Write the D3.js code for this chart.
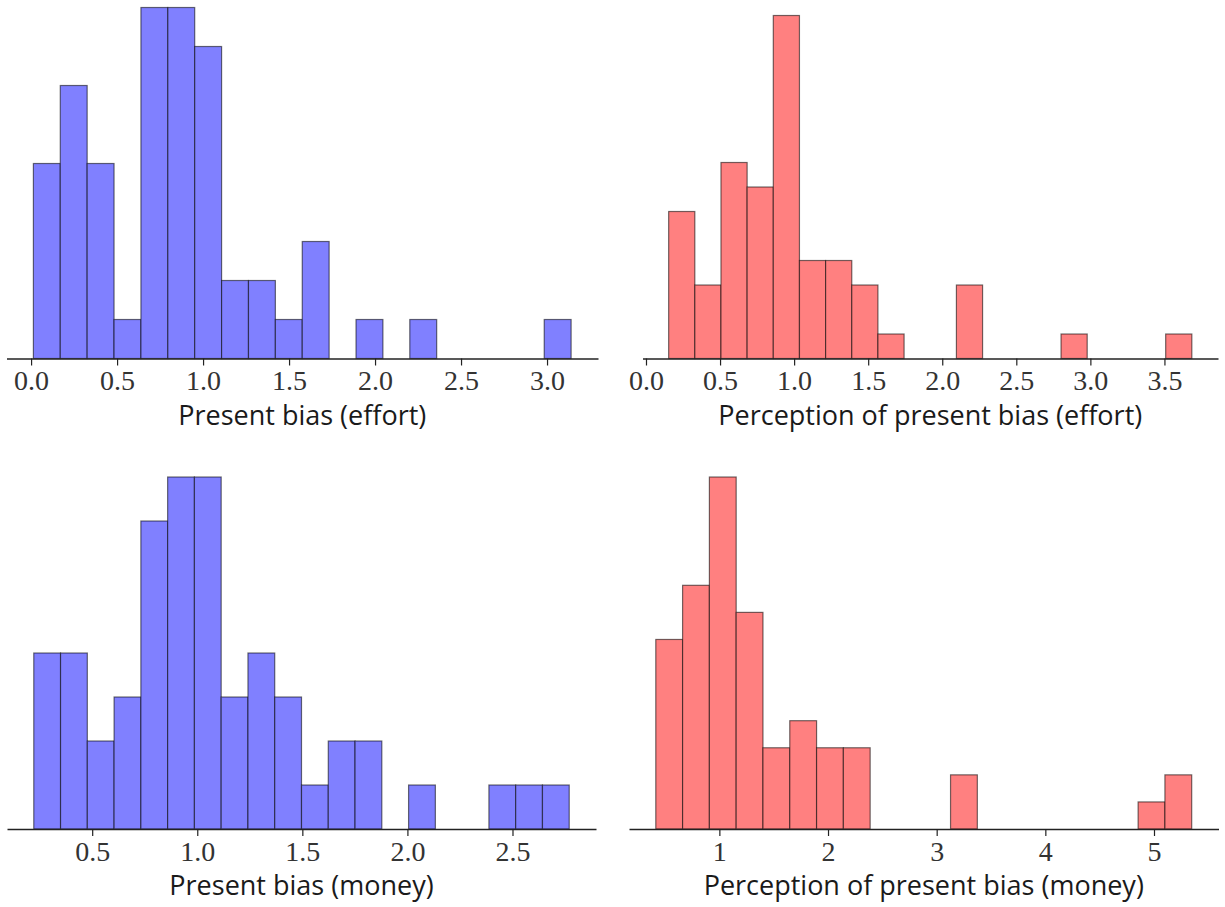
<!DOCTYPE html>
<html>
<head>
<meta charset="utf-8">
<script src="https://cdn.jsdelivr.net/npm/d3@7"></script>
<style>
  html, body { margin: 0; padding: 0; background: #fff; }
  svg { display: block; }
</style>
</head>
<body>
<svg id="chart" width="1225" height="907"></svg>
<script>
// Histogram counts (20 equal-width bins each) and bin ranges
const effortBiasCounts     = [5, 7, 5, 1, 9, 9, 8, 2, 2, 1, 3, 0, 1, 0, 1, 0, 0, 0, 0, 1];
const effortBiasRange      = [0.0134, 3.140];
const effortPerceptCounts  = [6, 3, 8, 7, 14, 4, 4, 3, 1, 0, 0, 3, 0, 0, 0, 1, 0, 0, 0, 1];
const effortPerceptRange   = [0.153, 3.685];
const moneyBiasCounts      = [4, 4, 2, 3, 7, 8, 8, 3, 4, 3, 1, 2, 2, 0, 1, 0, 0, 1, 1, 1];
const moneyBiasRange       = [0.222, 2.770];
const moneyPerceptCounts   = [7, 9, 13, 8, 3, 4, 3, 3, 0, 0, 0, 2, 0, 0, 0, 0, 0, 0, 1, 2];
const moneyPerceptRange    = [0.415, 5.347];

// Tick values and axis titles
const effortBiasTicks    = [0, 0.5, 1, 1.5, 2, 2.5, 3];
const effortPerceptTicks = [0, 0.5, 1, 1.5, 2, 2.5, 3, 3.5];
const moneyBiasTicks     = [0.5, 1, 1.5, 2, 2.5];
const moneyPerceptTicks  = [1, 2, 3, 4, 5];
const axisTitles = [
  "Present bias (effort)",
  "Perception of present bias (effort)",
  "Present bias (money)",
  "Perception of present bias (money)"
];

const BLUE = "#8080ff", RED = "#ff8080";

const panels = [
  { counts: effortBiasCounts, range: effortBiasRange, ticks: effortBiasTicks, fmt: d3.format(".1f"),
    title: axisTitles[0], fill: BLUE, left: 6.5, right: 598, base: 358.5, top: 7.5 },
  { counts: effortPerceptCounts, range: effortPerceptRange, ticks: effortPerceptTicks, fmt: d3.format(".1f"),
    title: axisTitles[1], fill: RED, left: 642.5, right: 1218, base: 358.5, top: 15.5 },
  { counts: moneyBiasCounts, range: moneyBiasRange, ticks: moneyBiasTicks, fmt: d3.format(".1f"),
    title: axisTitles[2], fill: BLUE, left: 7, right: 596, base: 829, top: 477 },
  { counts: moneyPerceptCounts, range: moneyPerceptRange, ticks: moneyPerceptTicks, fmt: d3.format("d"),
    title: axisTitles[3], fill: RED, left: 629, right: 1218.5, base: 829, top: 477 }
];

const svg = d3.select("#chart");

panels.forEach(p => {
  const n = p.counts.length;
  const [lo, hi] = p.range;
  const w = (hi - lo) / n;
  const bins = p.counts.map((c, i) => ({ x0: lo + i * w, x1: lo + (i + 1) * w, count: c }));

  // 5% padding on each side of the data, as in the usual histogram layout
  const x = d3.scaleLinear().domain([lo - w, hi + w]).range([p.left, p.right]);
  const y = d3.scaleLinear().domain([0, d3.max(p.counts)]).range([p.base, p.top]);

  const g = svg.append("g");

  g.selectAll("rect")
    .data(bins.filter(b => b.count > 0))
    .join("rect")
    .attr("x", d => x(d.x0))
    .attr("y", d => y(d.count))
    .attr("width", d => x(d.x1) - x(d.x0))
    .attr("height", d => y(0) - y(d.count))
    .attr("fill", p.fill)
    .attr("stroke", "#000")
    .attr("stroke-opacity", 0.55)
    .attr("stroke-width", 1.2);

  const axis = d3.axisBottom(x)
    .tickValues(p.ticks)
    .tickFormat(p.fmt)
    .tickSize(7)
    .tickPadding(5)
    .tickSizeOuter(0);

  const ax = g.append("g")
    .attr("transform", `translate(0,${p.base})`)
    .call(axis);

  ax.select(".domain")
    .attr("stroke", "#222")
    .attr("stroke-width", 1.3);
  ax.selectAll(".tick line")
    .attr("stroke", "#222")
    .attr("stroke-width", 1.2);
  ax.selectAll(".tick text")
    .attr("fill", "#333")
    .attr("font-family", "'Liberation Serif', 'DejaVu Serif', serif")
    .attr("font-size", 28);

  g.append("text")
    .attr("x", (p.left + p.right) / 2)
    .attr("y", p.base + 66)
    .attr("text-anchor", "middle")
    .attr("fill", "#1a1a1a")
    .attr("font-family", "'Open Sans', Lato, sans-serif")
    .attr("font-size", 27)
    .text(p.title);
});
</script>
</body>
</html>
